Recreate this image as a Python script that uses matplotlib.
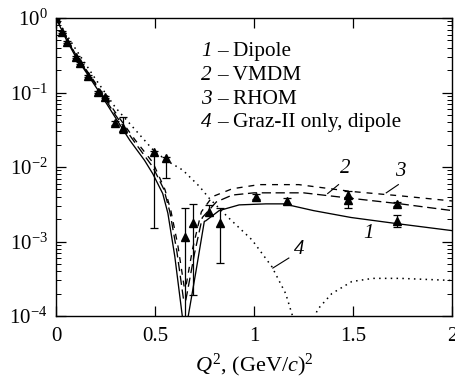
import numpy as np
import matplotlib.pyplot as plt

plt.rcParams['font.family'] = ['Liberation Serif', 'DejaVu Serif']
plt.rcParams['mathtext.fontset'] = 'custom'
plt.rcParams['mathtext.rm'] = 'Liberation Serif'
plt.rcParams['mathtext.it'] = 'Liberation Serif:italic'

# curve 1 - dipole (solid)
x1 = [0, 0.054, 0.10, 0.16, 0.22, 0.30, 0.372, 0.447, 0.489, 0.539, 0.565, 0.60, 0.64,
      0.665, 0.707, 0.749, 0.757, 0.824, 0.925, 1.06, 1.15, 1.30, 1.49, 1.72, 2.0]
y1 = [1.0, 0.50, 0.30, 0.174, 0.100, 0.046, 0.023, 0.0123, 0.0081, 0.0044, 0.0024, 0.00063, 0.00009,
      0.00009, 0.0004, 0.00186, 0.0019, 0.0026, 0.0031, 0.0032, 0.0032, 0.0026, 0.0021, 0.00174, 0.0014]
# curve 2 - VMDM (long dashes)
x2 = [0, 0.10, 0.22, 0.30, 0.40, 0.489, 0.545, 0.575, 0.61, 0.645, 0.655,
      0.70, 0.739, 0.81, 0.89, 1.0, 1.25, 1.49, 1.74, 2.0]
y2 = [1.0, 0.31, 0.107, 0.050, 0.021, 0.0100, 0.0050, 0.0025, 0.00075, 0.00016, 0.00016,
      0.0007, 0.0021, 0.0034, 0.0042, 0.0045, 0.0045, 0.0038, 0.0032, 0.0026]
# curve 3 - RHOM (short dashes)
x3 = [0, 0.10, 0.22, 0.30, 0.40, 0.489, 0.55, 0.58, 0.615, 0.648, 0.655,
      0.69, 0.734, 0.79, 0.89, 1.025, 1.226, 1.49, 1.74, 2.0]
y3 = [1.0, 0.32, 0.112, 0.054, 0.023, 0.0115, 0.0050, 0.0026, 0.0009, 0.00024, 0.00024,
      0.0008, 0.0025, 0.0040, 0.0051, 0.0058, 0.0058, 0.0047, 0.0041, 0.0035]
# curve 4 - Graz-II only, dipole (dotted)
x4 = [0, 0.10, 0.20, 0.30, 0.437, 0.497, 0.57, 0.64, 0.724, 0.774, 0.87, 0.99, 1.09, 1.16, 1.20,
      1.31, 1.318, 1.393, 1.494, 1.60, 1.74, 2.0]
y4 = [1.0, 0.38, 0.151, 0.063, 0.0245, 0.0162, 0.0117, 0.0091, 0.0055, 0.0038, 0.0021, 0.00105, 0.00046,
      0.0002, 0.00009, 0.00009, 0.00012, 0.0002, 0.00029, 0.00032, 0.00032, 0.0003]

# measured points with error bounds
qx = [0.0, 0.032, 0.054, 0.099, 0.12, 0.162, 0.213, 0.246, 0.296, 0.338, 0.497, 0.557,
      0.653, 0.690, 0.774, 0.829, 1.008, 1.167, 1.477, 1.477, 1.72, 1.72]
val = [1.0, 0.65, 0.48, 0.30, 0.25, 0.167, 0.102, 0.088, 0.039, 0.033, 0.0158, 0.0132,
       0.00116, 0.00175, 0.0025, 0.00175, 0.0040, 0.0035, 0.0042, 0.0036, 0.0032, 0.0019]
lo = [0.97, 0.63, 0.465, 0.29, 0.242, 0.162, 0.099, 0.085, 0.037, 0.029, 0.0015, 0.0071,
      0.00001, 0.00019, 0.0023, 0.00051, 0.0037, 0.0032, 0.0038, 0.0028, 0.0030, 0.00155]
hi = [1.03, 0.67, 0.495, 0.31, 0.258, 0.172, 0.105, 0.091, 0.041, 0.047, 0.0166, 0.0138,
      0.0028, 0.0032, 0.0031, 0.0028, 0.0043, 0.0038, 0.0047, 0.0039, 0.0034, 0.0023]

legend_names = ['Dipole', 'VMDM', 'RHOM', 'Graz-II only, dipole']

# curve labels: text position and leader line (start, end)
lab_txt = ['1', '2', '3', '4']
lab_x = [1.578, 1.46, 1.737, 1.226]
lab_y = [0.0013, 0.0096, 0.0087, 0.00077]
lead_x = [None, (1.372, 1.427), (1.668, 1.729), (1.095, 1.176)]
lead_y = [None, (0.0044, 0.0058), (0.0045, 0.0058), (0.00044, 0.0006)]

fig = plt.figure(figsize=(4.56, 3.81), dpi=100)
ax = fig.add_axes([56/456, 1-316/381, 396/456, 298/381])

ax.plot(x1, y1, color='black', lw=0.95)
ax.plot(x2, y2, color='black', lw=0.95, dashes=(7, 3.5))
ax.plot(x3, y3, color='black', lw=0.95, dashes=(4.5, 4.5))
ax.plot(x4, y4, color='black', lw=1.1, dashes=(1.0, 2.8))

yerr = [np.array(val) - np.array(lo), np.array(hi) - np.array(val)]
ax.errorbar(qx, val, yerr=yerr, fmt='^', color='black', ms=5.5, elinewidth=0.9,
            capsize=3, capthick=0.9)

ax.set_yscale('log')
ax.set_xlim(0, 2)
ax.set_ylim(1e-4, 1)
ax.set_xticks([0, 0.5, 1, 1.5, 2])
ax.set_xticklabels(['0', '0.5', '1', '1.5', '2'])
ax.tick_params(which='both', direction='in', top=True, right=True, labelsize=15)
ax.tick_params(which='major', length=7, width=0.9)
ax.tick_params(which='minor', length=3.5, width=0.7)
ax.tick_params(axis='x', pad=8)
ax.tick_params(axis='y', pad=6)
ax.xaxis.set_minor_locator(plt.NullLocator())
for s in ax.spines.values():
    s.set_linewidth(1.0)

ax.set_xlabel(r'$Q^2$, (GeV/$c$)$^2$', fontsize=16, labelpad=4)

for i, name in enumerate(legend_names):
    yy = 0.887 - i * 0.0795
    ax.text(0.366, yy, str(i + 1), fontstyle='italic', transform=ax.transAxes,
            fontsize=15.3, va='center')
    ax.text(0.408, yy, '– ' + name, transform=ax.transAxes, fontsize=15.3, va='center')

for t, tx, ty, lx, ly in zip(lab_txt, lab_x, lab_y, lead_x, lead_y):
    ax.text(tx, ty, t, fontstyle='italic', fontsize=15, ha='center', va='center')
    if lx is not None:
        ax.plot(lx, ly, color='black', lw=0.8)

fig.savefig('out.png', dpi=100)
